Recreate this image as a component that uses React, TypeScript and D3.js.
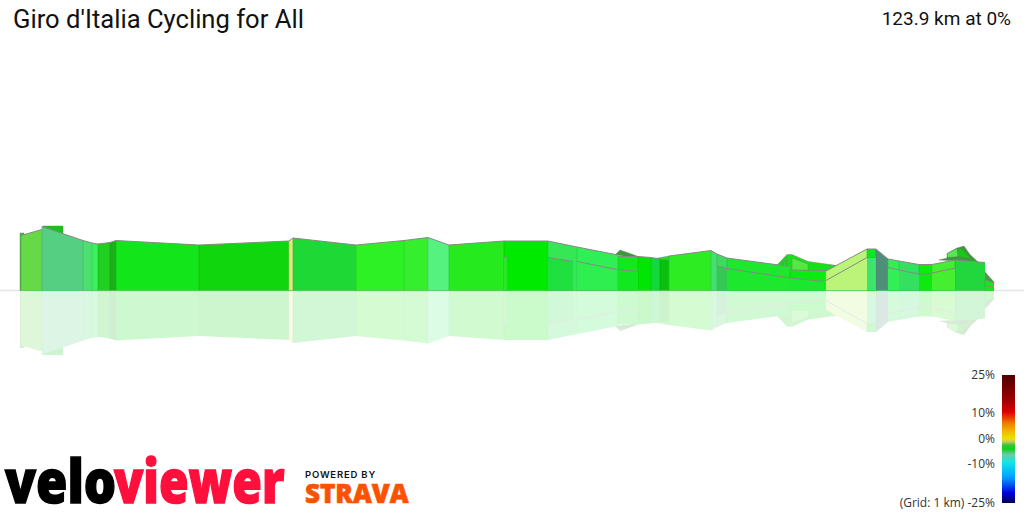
import React from "react";
import * as d3 from "d3";

// Distance along the route (drawing units) and height above the base plane
const wallStart = [1,22,63,72,78,90,96,179,269,273,336,384,408,429,484,528,557,598,618,631,640,649,691,697,707,770,806,847,856,868,879,899,912,935,965];
const wallEnd = [22,63,72,78,90,96,179,269,273,336,384,408,429,484,528,557,598,618,631,640,649,691,697,707,770,806,847,856,868,879,899,912,935,965,974];
const wallTopStart = [55,64,50,47.5,46.5,48,50,45.5,49.5,52.5,45.5,50,53,45.5,49.5,49.5,43.5,34,34,33,31.5,34.5,40,36.5,32.5,20.5,19.5,41.5,41.5,31.5,29.5,26,26,30.5,10.5];
const wallTopEnd = [61,50,47.5,46.5,48,50,45.5,49.5,52.5,45.5,50,53,45.5,49.5,49.5,43.5,35.5,34,33,31.5,30.5,40,36.5,32.5,24,20,41.5,41.5,31.5,29.5,26,26,30.5,28,7.5];
const wallColors = ["#66d946","#55cf82","#4de070","#3df060","#20d020","#1ab01a","#12e61a","#10d60e","#e6e680","#1ed836","#2df025","#35ee2c","#55f280","#25ea1e","#00ea00","#35e655","#30ee55","#12e820","#00e600","#12d83a","#0ac00e","#2eec22","#45de72","#40d860","#1de82e","#08ec10","#bcf47a","#0ee820","#4f8f7a","#33ee55","#35e060","#0eea10","#45ee30","#22d63e","#10e81a"];

const nearStart = [484,528,557,598,697,707,770,806,847,868,879,899,912,965];
const nearEnd = [487,553,597,618,707,770,804,847,856,879,899,912,935,974];
const nearTopStart = [33.5,33,29,21,24.5,22,12.5,10,33,23,20.5,16.5,17.5,4.5];
const nearTopEnd = [33.5,29,21,19,22,12.5,9,33,33,20.5,16.5,16.5,22.5,4];
const nearColors = ["#2ae52a","#20e040","#2fee50","#12e820","#35c855","#1de82e","#1ae82e","#bcf47a","#3ce46a","#33ee55","#35e060","#0eea10","#45ee30","#10e81a"];

const farHills: [number, number][][] = [
  [[0,0],[0,57.5],[4,57.5],[4,50],[1,50],[1,0]],
  [[23,64.5],[43,64.5],[43,50],[23,50]],
  [[595,35.5],[600,40.5],[617,34.5],[617,33]],
  [[635,32],[649,34.5],[649,20],[635,20]],
  [[757,25.5],[767,36],[772,36],[788,29],[817,25],[817,19],[757,19]],
  [[772,32.5],[788,26.5],[788,20],[772,20]],
  [[762,28],[767,33],[767,20],[762,20]],
  [[919,30.5],[927,32.5],[927,37],[937,42.5],[944,44.5],[950,36],[958,28.5]],
  [[927,37],[937,42],[938,34],[928,33]],
  [[938,41.5],[942,41.5],[950,32.5],[938,34]],
  [[965,18.5],[974,8.5],[974,7],[965,7]],
];
const farColors = ["#3cb83c","#10c810","#3a9a3a","#20e518","#18e018","#55e840","#30c830","#3a9a3a","#55e850","#14cc14","#4a9a4a"];

const gradeStops = [0,0.2,0.29,0.38,0.45,0.5,0.52,0.55,0.58,0.62,0.68,0.8,0.92,1];
const gradeColors = ["#4d0000","#a00000","#e00000","#f08000","#f0c000","#e6e600","#c8c860","#30c830","#10d020","#70c8a0","#10e8e8","#00a0ff","#0000e0","#000050"];
const gradeTicks = [25,10,0,-10,-25];
const gradeTickLabels = ["25%","10%","0%","-10%","(Grid: 1 km) -25%"];
const gradeTickRows = [374.5,412.5,438.5,463.5,502.5];

const title = "Giro d'Italia Cycling for All";
const summary = "123.9 km at 0%";

const W = 1024, H = 512;
const x = d3.scaleLinear().domain([0, 974]).range([20, 994]);
const yUp = d3.scaleLinear().domain([0, 100]).range([290.5, 190.5]);
const yDown = d3.scaleLinear().domain([0, 100]).range([290.5, 390.5]);
const barY = d3.scaleLinear().domain([0, 1]).range([375, 503]);

function Relief({ y, edges }: { y: d3.ScaleLinear<number, number>; edges: boolean }) {
  const line = d3.line<[number, number]>().x((d) => x(d[0])).y((d) => y(d[1]));
  const wall = (a: number, b: number, t0: number, t1: number) =>
    line([[a, 0], [a, t0], [b, t1], [b, 0]])! + "Z";
  const seam = (c: string) => d3.color(c)!.darker(0.55).formatHex();
  return (
    <g>
      {farHills.map((p, i) => (
        <path key={i} d={line(p)! + "Z"} fill={farColors[i]} stroke="#777" strokeOpacity={edges ? 0.6 : 0.2} strokeWidth={0.7} />
      ))}
      {wallStart.map((a, i) => (
        <path key={i} d={wall(a, wallEnd[i], wallTopStart[i], wallTopEnd[i])} fill={wallColors[i]} />
      ))}
      {wallStart.map((a, i) => (
        <line key={i} x1={x(a)} x2={x(a)} y1={y(0)} y2={y(wallTopStart[i])} stroke={seam(wallColors[i])} strokeOpacity={0.55} strokeWidth={1} />
      ))}
      {edges && wallStart.map((a, i) => (
        <line key={i} x1={x(a)} x2={x(wallEnd[i])} y1={y(wallTopStart[i])} y2={y(wallTopEnd[i])} stroke="#888" strokeWidth={1} />
      ))}
      {nearStart.map((a, i) => (
        <path key={i} d={wall(a, nearEnd[i], nearTopStart[i], nearTopEnd[i])} fill={nearColors[i]} />
      ))}
      {nearStart.map((a, i) => (
        <line key={i} x1={x(a)} x2={x(nearEnd[i])} y1={y(nearTopStart[i])} y2={y(nearTopEnd[i])} stroke="#888" strokeWidth={edges ? 1 : 0.8} />
      ))}
    </g>
  );
}

export default function App() {
  const [lo, hi] = x.domain();
  return (
    <svg width={W} height={H} viewBox={`0 0 ${W} ${H}`} style={{ position: "fixed", left: 0, top: 0, background: "#fff" }}>
      <defs>
        <linearGradient id="grade" x1="0" x2="0" y1="0" y2="1">
          {gradeStops.map((s, i) => <stop key={i} offset={s} stopColor={gradeColors[i]} />)}
        </linearGradient>
      </defs>
      <text x={13} y={28} fontFamily="Roboto" fontSize={25.6} fill="#111">{title}</text>
      <text x={1011} y={24.5} textAnchor="end" fontFamily="Roboto" fontSize={19} fill="#111">{summary}</text>

      <line x1={0} x2={W} y1={290.5} y2={290.5} stroke="#e6e6e6" strokeWidth={1.5} />
      <g opacity={0.2}><Relief y={yDown} edges={false} /></g>
      <Relief y={yUp} edges={true} />
      <line x1={x(lo + 1)} x2={x(hi)} y1={290.5} y2={290.5} stroke="#22c032" strokeOpacity={0.55} strokeWidth={1.2} />

      <rect x={1002} y={barY(0)} width={13} height={barY(1) - barY(0)} fill="url(#grade)" />
      {gradeTicks.map((t, i) => (
        <text key={t} x={995} y={gradeTickRows[i] + 4.5} textAnchor="end" fontFamily="'Open Sans'" fontSize={12} fill="#333">{gradeTickLabels[i]}</text>
      ))}

      <g fontFamily="'Open Sans', Lato" fontWeight={800}>
        <text transform="translate(5,503) scale(1.27,1.5)" fontSize={40} fill="#000" stroke="#000" strokeWidth={1}>velo</text>
        <text transform="translate(114,503) scale(1.2,1.5)" fontSize={40} fill="#ff0f3c" stroke="#ff0f3c" strokeWidth={1}>viewer</text>
      </g>
      <text x={305} y={478} fontFamily="Inter, Roboto" fontWeight={600} fontSize={9.5} letterSpacing={0.8} fill="#111">POWERED BY</text>
      <text transform="translate(305,503) scale(1.3,1.33)" fontFamily="'Open Sans', Lato" fontWeight={800} fontSize={20} fill="#fc5200" stroke="#fc5200" strokeWidth={0.5}>STRAVA</text>
    </svg>
  );
}
